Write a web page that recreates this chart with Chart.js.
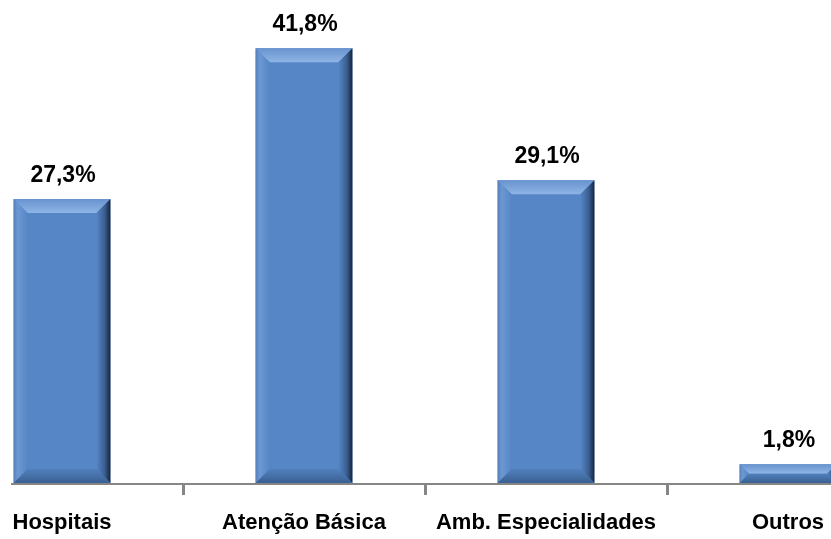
<!DOCTYPE html>
<html>
<head>
<meta charset="utf-8">
<script src="https://cdn.jsdelivr.net/npm/chart.js@4.4.1/dist/chart.umd.min.js"></script>
<style>
    html, body { margin: 0; padding: 0; background: #fff; overflow: hidden; }
    #wrap { position: absolute; left: -59px; top: 0; width: 968px; height: 539px; }
</style>
</head>
<body>
<div id="wrap"><canvas id="grafico" width="968" height="539"></canvas></div>
<script>
// dados do gráfico
const categorias = ['Hospitais', 'Atenção Básica', 'Amb. Especialidades', 'Outros'];
const valores = [27.3, 41.8, 29.1, 1.8];
const rotulos = ['27,3%', '41,8%', '29,1%', '1,8%'];

const FONTE = '"Liberation Sans", Arial, sans-serif';
const AZUL = '#5686c6';

// ========== BISEL DAS BARRAS ==========
const biselPlugin = {
    id: 'bisel',
    afterDatasetsDraw(chart) {
        const ctx = chart.ctx;
        chart.getDatasetMeta(0).data.forEach(bar => {
            const p = bar.getProps(['x', 'y', 'base', 'width'], true);
            const l = p.x - p.width / 2, r = p.x + p.width / 2;
            const t = p.y, bt = p.base;
            const b = Math.min(14, (bt - t) / 2, p.width / 2);
            ctx.save();
            // topo
            let g = ctx.createLinearGradient(0, t, 0, t + b);
            g.addColorStop(0, '#6893cf');
            g.addColorStop(1, '#8fb5e5');
            ctx.fillStyle = g;
            ctx.beginPath();
            ctx.moveTo(l, t); ctx.lineTo(r, t); ctx.lineTo(r - b, t + b); ctx.lineTo(l + b, t + b);
            ctx.closePath(); ctx.fill();
            // esquerda
            g = ctx.createLinearGradient(l, 0, l + b, 0);
            g.addColorStop(0, '#5580bb');
            g.addColorStop(0.3, '#6c98d2');
            g.addColorStop(1, AZUL);
            ctx.fillStyle = g;
            ctx.beginPath();
            ctx.moveTo(l, t); ctx.lineTo(l + b, t + b); ctx.lineTo(l + b, bt - b); ctx.lineTo(l, bt);
            ctx.closePath(); ctx.fill();
            // direita
            g = ctx.createLinearGradient(r - b, 0, r, 0);
            g.addColorStop(0, AZUL);
            g.addColorStop(0.6, '#3a5e90');
            g.addColorStop(1, '#16243a');
            ctx.fillStyle = g;
            ctx.beginPath();
            ctx.moveTo(r, t); ctx.lineTo(r, bt); ctx.lineTo(r - b, bt - b); ctx.lineTo(r - b, t + b);
            ctx.closePath(); ctx.fill();
            // base
            g = ctx.createLinearGradient(0, bt - b, 0, bt);
            g.addColorStop(0, '#5180bd');
            g.addColorStop(1, '#3a6092');
            ctx.fillStyle = g;
            ctx.beginPath();
            ctx.moveTo(l, bt); ctx.lineTo(r, bt); ctx.lineTo(r - b, bt - b); ctx.lineTo(l + b, bt - b);
            ctx.closePath(); ctx.fill();
            ctx.restore();
        });
    }
};

// ========== RÓTULOS E LINHA DO EIXO ==========
const rotulosPlugin = {
    id: 'rotulos',
    afterDraw(chart) {
        const ctx = chart.ctx;
        ctx.save();
        // linha do eixo (começa um pouco depois da borda, como no original)
        const yEixo = chart.chartArea.bottom + 1;
        ctx.strokeStyle = '#868686';
        ctx.lineWidth = 2;
        ctx.beginPath();
        ctx.moveTo(70, yEixo);
        ctx.lineTo(chart.width, yEixo);
        ctx.stroke();
        // valores em cima das barras
        ctx.fillStyle = '#000';
        ctx.font = 'bold 23px ' + FONTE;
        ctx.textAlign = 'center';
        ctx.textBaseline = 'alphabetic';
        chart.getDatasetMeta(0).data.forEach((bar, i) => {
            ctx.fillText(rotulos[i], bar.x + 1, bar.y - 17);
        });
        ctx.restore();
    }
};

new Chart(document.getElementById('grafico'), {
    type: 'bar',
    data: {
        labels: categorias,
        datasets: [{
            data: valores,
            backgroundColor: AZUL,
            borderWidth: 0,
            barPercentage: 0.4,
            categoryPercentage: 1
        }]
    },
    options: {
        responsive: false,
        animation: false,
        devicePixelRatio: 1,
        layout: { padding: { top: 15, left: 0, right: 0, bottom: 0 } },
        plugins: { legend: { display: false }, tooltip: { enabled: false } },
        scales: {
            y: { display: false, min: 0, max: 45 },
            x: {
                afterFit(scale) { scale.height = 56; },
                border: { display: false },
                grid: {
                    offset: true,
                    drawOnChartArea: false,
                    drawTicks: true,
                    tickLength: 12,
                    color: '#868686',
                    lineWidth: 3
                },
                ticks: {
                    color: '#000',
                    font: { family: FONTE, size: 22, weight: 'bold' },
                    padding: 15,
                    maxRotation: 0,
                    autoSkip: false
                }
            }
        }
    },
    plugins: [biselPlugin, rotulosPlugin]
});
</script>
</body>
</html>
